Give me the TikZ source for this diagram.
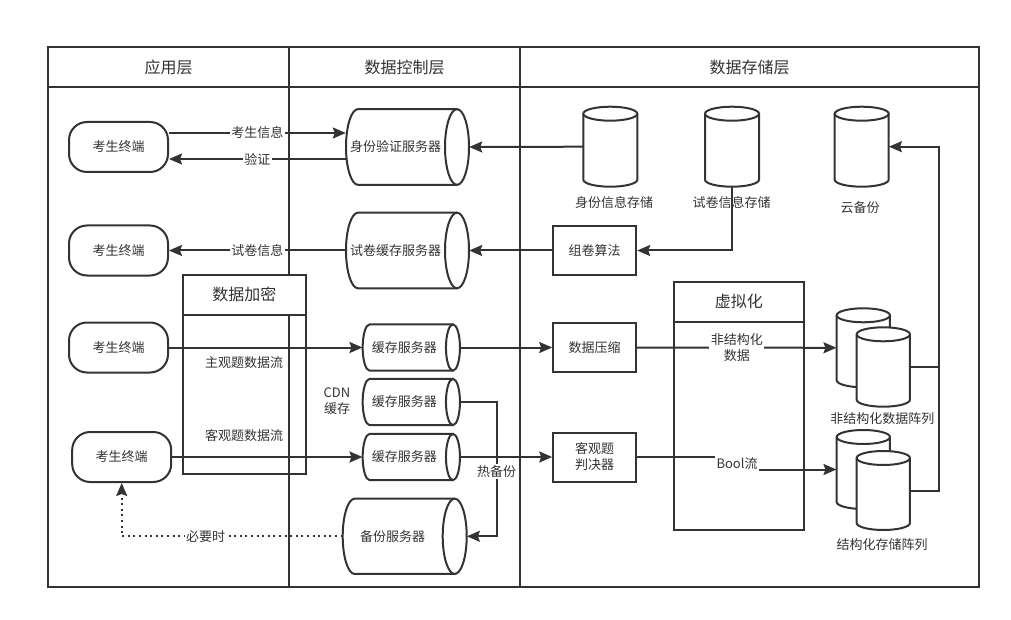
\documentclass[tikz,border=0pt]{standalone}
\usepackage{fontspec}
\setmainfont{Noto Sans CJK SC}
\usetikzlibrary{arrows.meta,calc}
\definecolor{ink}{HTML}{333333}
\newcommand\myfsn{\fontsize{13pt}{16pt}\selectfont}
\newcommand\myfst{\fontsize{16pt}{19pt}\selectfont}
\tikzset{
  ln/.style={draw=ink, line width=2pt},
  arr/.style={ln, -{Stealth[length=13pt,width=11pt,inset=2pt]}},
  dotarr/.style={arr, dash pattern=on 2pt off 3.6pt},
  lbl/.style={fill=white, inner sep=1.5pt, font=\myfsn, text=ink, align=center},
  txt/.style={font=\myfsn, text=ink, inner sep=0, align=center},
  ttl/.style={font=\myfst, text=ink, inner sep=0},
  cylsty/.style={draw=ink, fill=white, line width=2pt},
  term/.style={draw=ink, fill=white, line width=2pt, rounded corners=18pt, minimum width=99pt, minimum height=50pt, font=\myfsn, text=ink},
  boxsty/.style={draw=ink, fill=white, line width=2pt, minimum width=83pt, minimum height=49pt, font=\myfsn, text=ink, align=center, inner sep=0},
  frame/.style={draw=ink, line width=2pt, inner sep=0},
}
% horizontal cylinder: name, cx, cy, w, h, rx, text
\newcommand\hcyl[7]{%
  \draw[cylsty] ({#2+#4/2-#6},{#3-#5/2}) -- ({#2-#4/2+#6},{#3-#5/2}) arc[start angle=270,end angle=90,x radius=#6,y radius=#5/2] -- ({#2+#4/2-#6},{#3+#5/2});
  \draw[cylsty] ({#2+#4/2-#6},#3) ellipse[x radius=#6, y radius=#5/2];
  \node[inner sep=0,minimum width=#4pt,minimum height=#5pt] (#1) at (#2,#3) {};
  \node[txt] (#1-t) at ({#2-#6},#3) {#7};
}
% vertical cylinder: name, cx, cy, w, h
\newcommand\vcyl[5]{%
  \draw[cylsty] ({#2-#4/2},{#3-#5/2+7}) -- ({#2-#4/2},{#3+#5/2-7}) arc[start angle=180,end angle=0,x radius=#4/2,y radius=7] -- ({#2+#4/2},{#3-#5/2+7});
  \draw[cylsty] (#2,{#3-#5/2+7}) ellipse[x radius=#4/2, y radius=7];
  \node[inner sep=0,minimum width=#4pt,minimum height=#5pt] (#1) at (#2,#3) {};
}
\begin{document}
\begin{tikzpicture}[x=1pt,y=-1pt]
\useasboundingbox (0,0) rectangle (1011,620);
% frame
\draw[ln] (48,47) rectangle (979,587);
\draw[ln] (48,87) -- (979,87);
\draw[ln] (289.3,47) -- (289.3,587);
\draw[ln] (520,47) -- (520,587);
\node[ttl] (h1) at (168.5,67) {应用层};
\node[ttl] (h2) at (404.6,67) {数据控制层};
\node[ttl] (h3) at (749.5,67) {数据存储层};

% encryption box
\node[frame, minimum width=123.3pt, minimum height=199.3pt] (enc) at (244.3,374.35) {};
\node[frame, fill=white, minimum width=123.3pt, minimum height=40.3pt, ttl] (enct) at (244.3,294.85) {数据加密};
\node[txt] (s1) at (244,363) {主观题数据流};
\node[txt] (s2) at (244,436) {客观题数据流};

% virtualization box
\node[frame, minimum width=130.3pt, minimum height=248pt] (virt) at (738.85,406) {};
\node[frame, fill=white, minimum width=130.3pt, minimum height=39.7pt, ttl] (virtt) at (738.85,301.85) {虚拟化};

% terminals
\node[term] (t1) at (118.5,147) {考生终端};
\node[term] (t2) at (118.5,250.5) {考生终端};
\node[term] (t3) at (118.5,347.5) {考生终端};
\node[term] (t4) at (121.7,457) {考生终端};

% control layer servers
\hcyl{auth}{407.5}{147}{123}{75.7}{12}{身份验证服务器}
\hcyl{pc}{407.5}{250.5}{123}{75.6}{12}{试卷缓存服务器}
\hcyl{c1}{411.3}{347.5}{97.3}{46.3}{7}{缓存服务器}
\hcyl{c2}{411.3}{402}{97.3}{46.3}{7}{缓存服务器}
\hcyl{c3}{411.3}{457}{97.3}{46.3}{7}{缓存服务器}
\hcyl{bk}{404.7}{536.3}{124}{75.3}{12}{备份服务器}
\node[txt] (cdn) at (337,401) {CDN\\缓存};

% storage
\vcyl{ids}{610.3}{146.7}{54}{80}
\vcyl{pst}{732}{146.7}{54}{80}
\vcyl{cld}{861.7}{146.7}{54}{80}
\node[txt] (idsl) at (614,203) {身份信息存储};
\node[txt] (pstl) at (731.7,203) {试卷信息存储};
\node[txt] (cldl) at (860,207.7) {云备份};

\node[boxsty] (zj) at (594.7,250.5) {组卷算法};
\node[boxsty] (zip) at (594.7,347.5) {数据压缩};
\node[boxsty] (jd) at (594.7,457) {客观题\\判决器};

\vcyl{uab}{863.3}{347.8}{53.3}{79}
\vcyl{uaf}{883.3}{367}{53.3}{79.4}
\node[txt] (ual) at (882.3,418.3) {非结构化数据阵列};
\vcyl{sab}{863.3}{469.5}{53.3}{79}
\vcyl{saf}{883.3}{490.5}{53.3}{79}
\node[txt] (sal) at (882,545) {结构化存储阵列};

% connectors
\draw[arr] ([yshift=14pt]t1.east) -- node[lbl]{考生信息} ([yshift=14pt]auth.west);
\draw[arr] ([yshift=-12pt]auth.west) -- node[lbl]{验证} ([yshift=-12pt]t1.east);
\draw[arr] (pc.west) -- node[lbl]{试卷信息} (t2.east);
\draw[arr] (t3.east) -- (c1.west);
\draw[arr] (t4.east) -- (c3.west);
\draw[arr] (ids.west) -- (auth.east);
\draw[arr] (pst.south) |- (zj.east);
\draw[arr] (zj.west) -- (pc.east);
\draw[arr] (c1.east) -- (zip.west);
\draw[arr] (c3.east) -- (jd.west);
\coordinate (hb) at (496.7,402);
\draw[arr] (c2.east) -- (hb) |- node[lbl, pos=0.26]{热备份} (bk.east);
\draw[dotarr] (bk.west) -| node[lbl, pos=0.31]{必要时} (t4.south);
\draw[arr] (zip.east) -- node[lbl]{非结构化\\数据} (uab.west);
\coordinate (bj1) at (737,457);
\coordinate (bj2) at (737,469.5);
\draw[arr] (jd.east) -- (bj1) -- node[lbl]{Bool流} (bj2) -- (sab.west);
\coordinate (bus) at (939.3,146.7);
\draw[ln] (uaf.east) -- (uaf.east -| bus);
\draw[arr] (saf.east) -| (bus) -- (cld.east);
\end{tikzpicture}
\end{document}
